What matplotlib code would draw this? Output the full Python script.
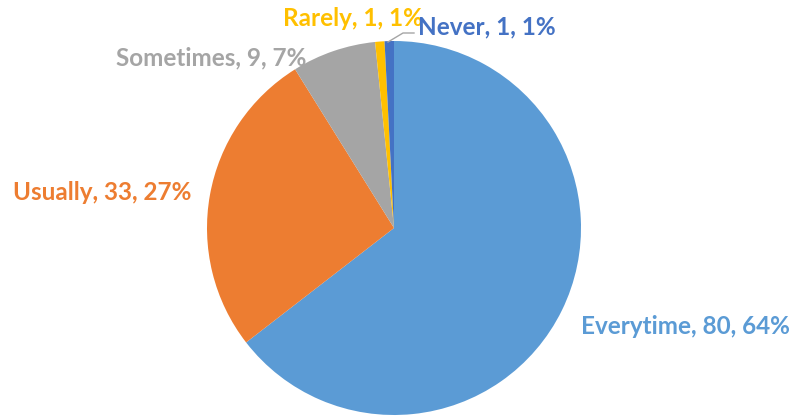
import matplotlib
matplotlib.use("Agg")
from matplotlib import pyplot as plt

categories = ["Everytime", "Usually", "Sometimes", "Rarely", "Never"]
counts = [80, 33, 9, 1, 1]
percents = ["64%", "27%", "7%", "1%", "1%"]
colors = ["#5B9BD5", "#ED7D31", "#A5A5A5", "#FFC000", "#4472C4"]

# label anchor positions in pixels (x, y from top)
label_pos = [(685, 327), (102, 193), (211, 58), (353, 18), (487, 27)]

W, H = 795, 416
fig = plt.figure(figsize=(W / 100, H / 100), dpi=100)
ax = fig.add_axes([0, 0, 1, 1])

cx, cy, r = 394, H - 228, 187
ax.pie(counts, colors=colors, startangle=90, counterclock=False,
       center=(cx, cy), radius=r, frame=True,
       wedgeprops=dict(linewidth=0))
ax.set_xlim(0, W)
ax.set_ylim(0, H)
ax.set_aspect("equal")
ax.axis("off")

for cat, n, p, c, (x, y) in zip(categories, counts, percents, colors, label_pos):
    ax.text(x, H - y, f"{cat}, {n}, {p}", color=c, fontsize=17.5,
            fontweight="bold", family=["Lato", "DejaVu Sans"],
            ha="center", va="center")

# leader line for Never
ax.plot([388, 403, 414], [H - 42, H - 33, H - 33], color="#A5A5A5", lw=1)

fig.savefig("out.png", dpi=100)
